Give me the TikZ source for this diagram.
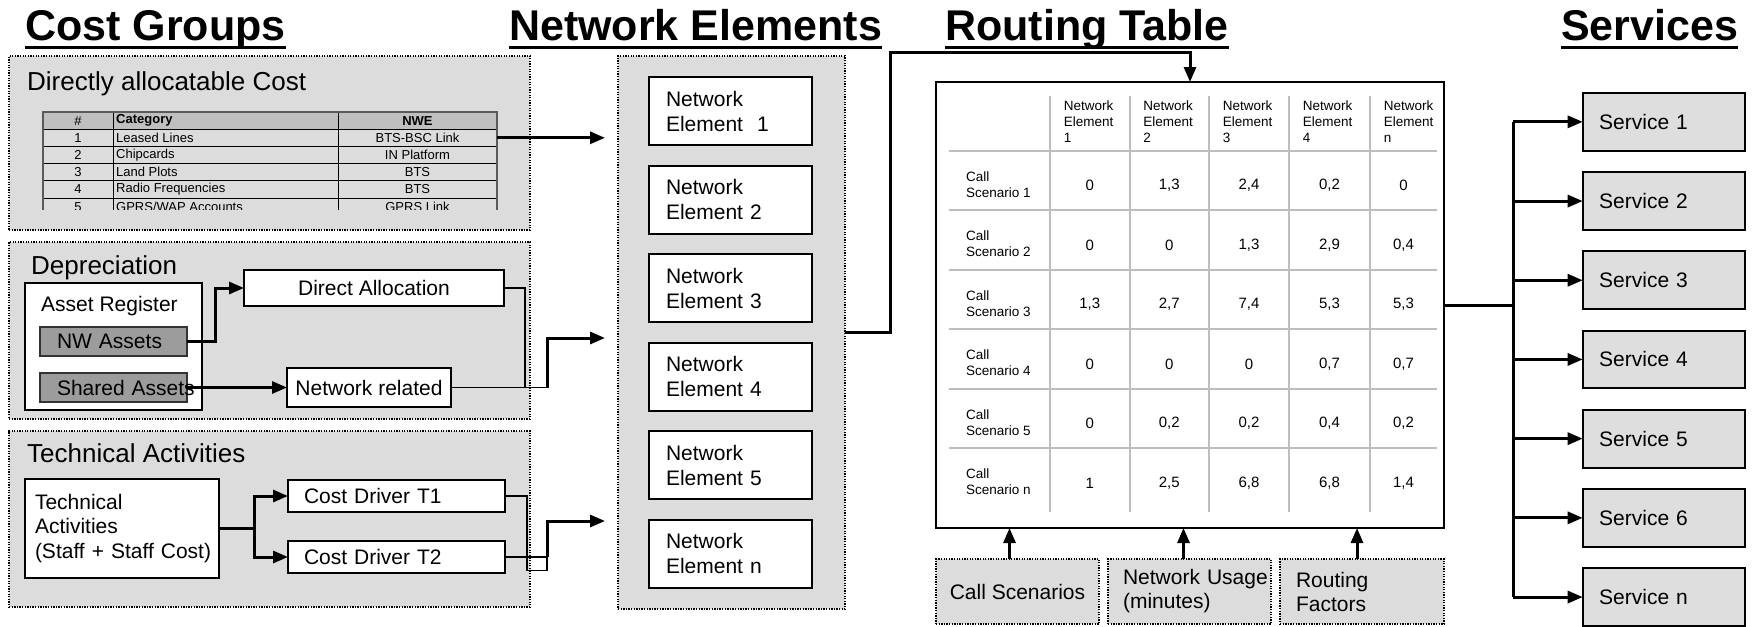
\documentclass[tikz,border=0pt]{standalone}
\usepackage{fontspec}
\setmainfont{Liberation Sans}
\usetikzlibrary{arrows.meta}
\newcommand{\myfs}[2]{\fontsize{#1pt}{#2pt}\selectfont}
\definecolor{grpfill}{HTML}{DCDCDC}
\definecolor{svfill}{HTML}{DEDEDE}
\definecolor{assetfill}{HTML}{9C9C9C}
\definecolor{hdrfill}{HTML}{C0C0C0}
\definecolor{gridc}{HTML}{BDBDBD}
\definecolor{tblborder}{HTML}{5A5A5A}
\tikzset{
  base/.style={rectangle, inner sep=0pt, outer sep=0pt, anchor=north west},
  grp/.style={base, draw=black, line width=1.6pt, dash pattern=on 1.3pt off 1.3pt, fill=grpfill},
  wbox/.style={base, draw=black, line width=2pt, fill=white},
  abox/.style={base, draw=black!80, line width=1.5pt, fill=assetfill},
  sbox/.style={base, draw=black, line width=2pt, fill=svfill},
  ttl/.style={inner sep=0pt, anchor=base west, font=\bfseries\myfs{43}{50}},
  lbl/.style={inner sep=0pt, anchor=west, font=\myfs{26}{30}},
  txt/.style={font=\myfs{21}{25}},
  ltxt/.style={txt, align=left},
  thk/.style={line width=3pt},
  thn/.style={line width=1.6pt},
  arr/.style={-{Triangle[length=15pt,width=12pt]}},
  gridl/.style={draw=gridc, line width=2pt},
  small/.style={font=\myfs{13}{15}, inner sep=0pt},
  smallb/.style={font=\bfseries\myfs{13}{15}, inner sep=0pt},
  hlab/.style={inner sep=0pt, anchor=west, align=left, font=\myfs{13.5}{16.3}},
  rlab/.style={inner sep=0pt, anchor=west, align=left, font=\myfs{13.5}{16}},
  val/.style={inner sep=0pt, font=\myfs{15}{18}},
}
\newcommand{\valrow}[7]{%
  \node[val] (v#1a) at (1089.75,#2) {#3};
  \node[val] (v#1b) at (1169.25,#2) {#4};
  \node[val] (v#1c) at (1249,#2) {#5};
  \node[val] (v#1d) at (1329.5,#2) {#6};
  \node[val] (v#1e) at (1403.5,#2) {#7};}
\begin{document}
\begin{tikzpicture}[x=1pt,y=-1pt]
\useasboundingbox (0,0) rectangle (1752,626);
% ---------- titles
\node[ttl] (tCost) at (25,41) {Cost Groups};
\node[ttl] (tNE) at (509,41) {Network Elements};
\node[ttl] (tRT) at (945,41) {Routing Table};
\node[ttl] (tSv) at (1561,41) {Services};
\foreach \n in {tCost,tNE,tRT,tSv}
  \draw[line width=3.5pt] ([yshift=-6.5pt]\n.base west) -- ([yshift=-6.5pt]\n.base east);

% ---------- group boxes
\node[grp, minimum width=521pt, minimum height=174pt] (gDirect) at (9,56) {};
\node[grp, minimum width=521pt, minimum height=177pt] (gDep) at (9,242) {};
\node[grp, minimum width=521pt, minimum height=176pt] (gTech) at (9,431) {};
\node[grp, minimum width=227pt, minimum height=553pt] (gNE) at (618,56) {};
\node[lbl] (lDirect) at (27,84) {Directly allocatable Cost};
\node[lbl] (lDep) at (31,268) {Depreciation};
\node[lbl] (lTech) at (27,453) {Technical Activities};

% ---------- small table
\begin{scope}
\clip (40,109) rectangle (500,209);
\fill[hdrfill] (43,112) rectangle (497,129.2);
\foreach \y in {129.2,146.4,163.6,180.8,198} \draw[line width=1pt] (43,\y) -- (497,\y);
\foreach \x in {113,338} \draw[line width=1pt] (\x,112) -- (\x,216);
\draw[tblborder, line width=2pt] (43,112) rectangle (497,216);
\node[small] (hNum) at (78,120.6) {\#};
\node[smallb, anchor=west] (hCat) at (116,120.6) {Category};
\node[smallb] (hNwe) at (417.5,120.6) {NWE};
\foreach \i/\c/\w [evaluate=\i as \yy using 129.2+17.2*(\i-1)+8.6] in {1/Leased Lines/BTS-BSC Link, 2/Chipcards/IN Platform, 3/Land Plots/BTS, 4/Radio Frequencies/BTS}{
  \node[small] (cn\i) at (78,\yy) {\i};
  \node[small, anchor=west] (cc\i) at (116,\yy) {\c};
  \node[small, minimum width=159pt] (cw\i) at (417.5,\yy) {\w};
}
\node[small] (cn5) at (78,206.6) {5};
\node[small, anchor=west] (cc5) at (116,206.6) {GPRS/WAP Accounts};
\node[small, minimum width=159pt] (cw5) at (417.5,206.6) {GPRS Link};
\end{scope}

% ---------- depreciation
\node[wbox, minimum width=177pt, minimum height=127pt] (ar) at (25,283) {};
\node[inner sep=0pt, anchor=west, txt] (arL) at (41,306) {Asset Register};
\node[abox, ltxt, text width=113pt, inner xsep=17pt, minimum height=29pt] (nw) at (40,327) {NW Assets};
\node[abox, ltxt, text width=113pt, inner xsep=17pt, minimum height=29pt] (sh) at (40,373) {\mbox{Shared Assets}};
\node[wbox, txt, minimum width=260pt, minimum height=36pt] (da) at (244,270) {Direct Allocation};
\node[wbox, txt, minimum width=164pt, minimum height=39pt] (nr) at (287,368) {Network related};

% ---------- technical
\node[wbox, ltxt, text width=174pt, inner xsep=10pt, minimum height=99pt, font=\myfs{21}{24.5}] (ta) at (25,479) {Technical\\Activities\\\mbox{(Staff + Staff Cost)}};
\node[wbox, ltxt, text width=185pt, inner xsep=16pt, minimum height=32pt] (t1) at (288,480) {Cost Driver T1};
\node[wbox, ltxt, text width=185pt, inner xsep=16pt, minimum height=32pt] (t2) at (288,541) {Cost Driver T2};

% ---------- network elements
\foreach \n/\y/\t in {ne1/77/{Element\ \ 1}, ne2/165.5/Element 2, ne3/254/Element 3, ne4/342.5/Element 4, ne5/431/Element 5, nen/519.5/Element n}
  \node[wbox, ltxt, text width=129pt, inner xsep=17pt, minimum height=68pt] (\n) at (649,\y) {Network\\\t};

% ---------- routing table
\node[wbox, minimum width=508pt, minimum height=446pt] (rt) at (936,82) {};
\foreach \x in {1050,1129.5,1209,1289,1370} \draw[gridl] (\x,96) -- (\x,512);
\foreach \y in {150.6,210.15,269.7,329.25,388.8,448.35} \draw[gridl] (949,\y) -- (1437,\y);
\foreach \x/\k [count=\c] in {1050/1,1129.5/2,1209/3,1289/4,1370/n}
  \node[hlab] (h\c) at (\x+13.6,121.7) {Network\\Element\\\k};
\node[rlab] (r1) at (966,184.4) {Call\\Scenario 1};
\node[rlab] (r2) at (966,243.9) {Call\\Scenario 2};
\node[rlab] (r3) at (966,303.5) {Call\\Scenario 3};
\node[rlab] (r4) at (966,363) {Call\\Scenario 4};
\node[rlab] (r5) at (966,422.6) {Call\\Scenario 5};
\node[rlab] (r6) at (966,482.1) {Call\\Scenario n};
\valrow{1}{185.4}{0}{1,3}{2,4}{0,2}{0}
\valrow{2}{244.9}{0}{0}{1,3}{2,9}{0,4}
\valrow{3}{304.5}{1,3}{2,7}{7,4}{5,3}{5,3}
\valrow{4}{364}{0}{0}{0}{0,7}{0,7}
\valrow{5}{423.6}{0}{0,2}{0,2}{0,4}{0,2}
\valrow{6}{483.1}{1}{2,5}{6,8}{6,8}{1,4}

% ---------- bottom inputs
\node[grp, txt, minimum width=163pt, minimum height=65pt] (gCS) at (936,559) {Call Scenarios};
\node[grp, ltxt, text width=133pt, inner xsep=15pt, minimum height=65pt, font=\myfs{21}{24}] (gNU) at (1108,559) {\mbox{Network Usage}\\(minutes)};
\node[grp, ltxt, text width=132pt, inner xsep=16pt, minimum height=65pt, font=\myfs{21}{24}] (gRF) at (1280,559) {Routing\\Factors};

% ---------- services
\foreach \i/\y in {1/93,2/172.2,3/251.4,4/330.6,5/409.8,6/489}
  \node[sbox, ltxt, text width=129.3pt, inner xsep=16.5pt, minimum height=57.7pt] (s\i) at (1582.7,\y) {Service \i};
\node[sbox, ltxt, text width=129.3pt, inner xsep=16.5pt, minimum height=57.7pt] (sn) at (1582.7,568.2) {Service n};

% ---------- connectors
\coordinate (tip1) at (605,137.8);
\coordinate (tip2) at (605,338);
\coordinate (tip3) at (605,521);
\draw[thk,arr] (cw1.east) -- (tip1);

\draw[thk,arr] (nw.east) -- ++(28,0) |- (da.west);
\draw[thk,arr] (sh.east) -- (nr.west);
\coordinate (jD) at (547,387.5);
\draw[thn] (da.east) -- (525,288) -- (525,387.5);
\draw[thn] (nr.east) -- (jD);
\draw[thk,arr] (jD) -- (547,338) -- (tip2);

\coordinate (split) at (254,528.5);
\draw[thk] (ta.east) -- (split);
\draw[thk,arr] (split) |- (t1.west);
\draw[thk,arr] (split) |- (t2.west);
\coordinate (jT) at (547,557);
\draw[thn] (t1.east) -- (527,496) -- (527,570.5) -- (547,570.5) -- (jT);
\draw[thn] (t2.east) -- (jT);
\draw[thk,arr] (jT) -- (547,521) -- (tip3);

\coordinate (rtIn) at (1190,82);
\draw[thk,arr] (gNE.east) -| (890,53) -| (rtIn);

\draw[thk,arr] ([xshift=-8pt]gCS.north) -- ([xshift=-8pt]gCS.north |- rt.south);
\draw[thk,arr] ([xshift=-6pt]gNU.north) -- ([xshift=-6pt]gNU.north |- rt.south);
\draw[thk,arr] ([xshift=-5pt]gRF.north) -- ([xshift=-5pt]gRF.north |- rt.south);

\coordinate (bus) at (1513,305);
\draw[thk] (rt.east) -- (bus);
\draw[thk] (s1.west -| bus) -- (sn.west -| bus);
\foreach \s in {s1,s2,s3,s4,s5,s6,sn}
  \draw[thk,arr] (\s.west -| bus) -- (\s.west);
\end{tikzpicture}
\end{document}
